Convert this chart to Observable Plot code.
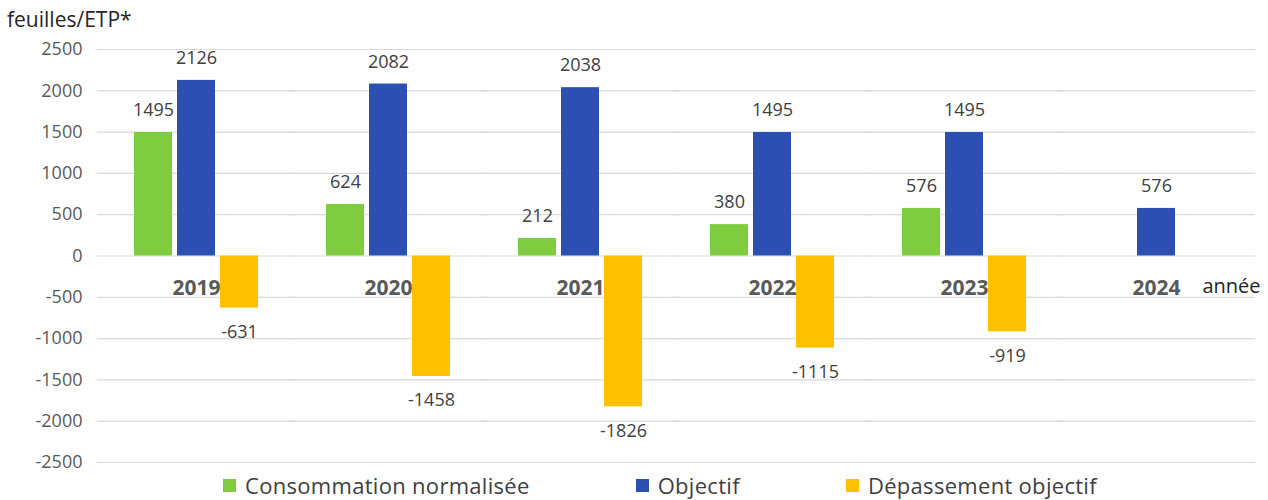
<!DOCTYPE html>
<html><head><meta charset="utf-8">
<script src="https://cdn.jsdelivr.net/npm/d3@7"></script>
<script src="https://cdn.jsdelivr.net/npm/@observablehq/plot@0.6"></script>
<style>
body{margin:0;background:#fff;font-family:"Open Sans",sans-serif;color:#404040;width:1268px;height:500px;overflow:hidden;position:relative}
#title{position:absolute;left:7px;top:5px;font-size:21px;line-height:28px;color:#262626}
#chart{position:absolute;left:0;top:30px}
#legend{position:absolute;left:0;top:472px;width:1268px;height:26px;line-height:26px;display:flex;justify-content:center;align-items:center;gap:106px;font-size:22px;letter-spacing:0.3px;color:#404040;padding-left:52px;box-sizing:border-box}
.item{display:flex;align-items:center;gap:9px}
.sw{width:13px;height:13px;display:inline-block}
</style></head><body>
<div id="title">feuilles/ETP*</div>
<div id="chart"></div>
<div id="legend"></div>
<script>
const years = ["2019","2020","2021","2022","2023","2024"];
const series = ["Consommation normalisée","Objectif","Dépassement objectif"];
const consommation = [1495, 624, 212, 380, 576, null];
const objectif = [2126, 2082, 2038, 1495, 1495, 576];
const depassement = [-631, -1458, -1826, -1115, -919, null];
const colors = ["#7ecd3e", "#2b50b2", "#ffc000"];
const yTicks = [-2500, -2000, -1500, -1000, -500, 0, 500, 1000, 1500, 2000, 2500];
const xAxisLabel = "année";

const seriesValues = [consommation, objectif, depassement];
const table = [];
years.forEach((yr, i) => {
  series.forEach((s, j) => {
    const v = seriesValues[j][i];
    if (v != null) table.push({year: yr, series: s, value: v});
  });
});

const chart = Plot.plot({
  width: 1268,
  height: 445,
  marginLeft: 97,
  marginRight: 13,
  marginTop: 19,
  marginBottom: 13,
  style: {fontFamily: "'Open Sans', sans-serif", fontSize: "18px", color: "#404040", background: "#fff"},
  fx: {domain: years, paddingInner: 0.29, paddingOuter: 0.16, axis: null, label: null},
  x: {domain: series, padding: 0.12, axis: null},
  y: {domain: [-2500, 2500], axis: null},
  color: {domain: series, range: colors},
  marks: [
    Plot.ruleY(yTicks, {y: d => d, stroke: "#d9d9d9", strokeWidth: 1.2, insetLeft: -31, insetRight: -31}),
    Plot.axisY({ticks: yTicks, tickFormat: d => String(d), tickSize: 0, tickPadding: 46, label: null, fill: "#595959", fontSize: 18}),
    Plot.barY(table, {fx: "year", x: "series", y: "value", fill: "series"}),
    Plot.text(table.filter(d => d.value >= 0), {fx: "year", x: "series", y: "value", text: d => String(d.value), dy: -22, fill: "#404040", fontSize: 18}),
    Plot.text(table.filter(d => d.value < 0), {fx: "year", x: "series", y: "value", text: d => String(d.value), dy: 24, fill: "#404040", fontSize: 18}),
    Plot.text(years, {fx: d => d, y: 0, text: d => d, dy: 32, fontWeight: "bold", fontSize: 21, fill: "#595959"}),
    Plot.text([{year: years[years.length - 1], label: xAxisLabel}], {fx: "year", y: 0, text: "label", frameAnchor: "right", textAnchor: "end", dx: 36, dy: 31, fontSize: 20, fill: "#262626"})
  ]
});
document.getElementById("chart").appendChild(chart);

const legend = document.getElementById("legend");
series.forEach((s, i) => {
  const it = document.createElement("div");
  it.className = "item";
  const sw = document.createElement("span");
  sw.className = "sw";
  sw.style.background = colors[i];
  const lb = document.createElement("span");
  lb.textContent = s;
  it.appendChild(sw); it.appendChild(lb);
  legend.appendChild(it);
});
</script>
</body></html>
